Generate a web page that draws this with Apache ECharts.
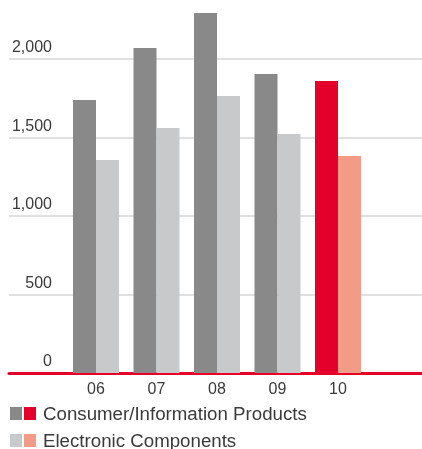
<!DOCTYPE html>
<html>
<head>
<meta charset="utf-8">
<script src="https://cdn.jsdelivr.net/npm/echarts@6/dist/echarts.min.js"></script>
<style>
  html, body { margin: 0; padding: 0; background: #ffffff; }
  #chart { width: 422px; height: 449px; }
</style>
</head>
<body>
<div id="chart"></div>
<script>
// Fiscal years on the category axis
const years = ['06', '07', '08', '09', '10'];
// Segment totals per year
const consumerInfo = [1739, 2070, 2293, 1904, 1860];
const electronicComponents = [1357, 1561, 1764, 1522, 1382];
// Value-axis ticks that carry a label
const yTicks = [0, 500, 1000, 1500, 2000];
const legendNames = ['Consumer/Information Products', 'Electronic Components'];

const FONT = '"Liberation Sans", Arial, sans-serif';
const TEXT = '#3a3a3a';
const RED = '#e4002b';
const lastIdx = years.length - 1;

const chart = echarts.init(document.getElementById('chart'), null, { renderer: 'canvas' });

const fmt = v => yTicks.indexOf(v) >= 0 ? v.toLocaleString('en-US') : '';

// Axis tops out at the last labelled tick; taller bars run above it unclipped.
chart.setOption({
  animation: false,
  backgroundColor: '#ffffff',
  grid: [
    { left: 9, right: 0, top: 59, bottom: 76 },
    { left: 65.75, width: 302.5, top: 59, bottom: 76 }
  ],
  xAxis: [
    {
      gridIndex: 0, type: 'category', data: years,
      axisLine: { show: true, lineStyle: { color: RED, width: 3 } },
      axisTick: { show: false }, axisLabel: { show: false }, splitLine: { show: false }
    },
    {
      gridIndex: 1, type: 'category', data: years,
      axisLine: { show: false }, axisTick: { show: false },
      axisLabel: { color: TEXT, fontFamily: FONT, fontSize: 16, margin: 9 }
    }
  ],
  yAxis: [
    {
      gridIndex: 0, type: 'value', min: 0, max: 2000, interval: 500,
      axisLine: { show: false }, axisTick: { show: false },
      splitLine: { show: true, lineStyle: { color: '#d6d6d6', width: 1.5 } },
      axisLabel: {
        inside: true, align: 'right', verticalAlign: 'bottom', margin: 43,
        padding: [0, 0, 3, 0],
        color: TEXT, fontFamily: FONT, fontSize: 16, formatter: fmt
      }
    },
    {
      gridIndex: 1, type: 'value', min: 0, max: 2000, interval: 500, show: false,
      splitLine: { show: false }
    }
  ],
  series: [
    {
      name: legendNames[0], type: 'bar', xAxisIndex: 1, yAxisIndex: 1,
      data: consumerInfo, barWidth: 23, barGap: '0%', clip: false,
      itemStyle: { color: p => p.dataIndex === lastIdx ? RED : '#898989' }
    },
    {
      name: legendNames[1], type: 'bar', xAxisIndex: 1, yAxisIndex: 1,
      data: electronicComponents, barWidth: 23, barGap: '0%', clip: false,
      itemStyle: { color: p => p.dataIndex === lastIdx ? '#f29c88' : '#c8c9cb' }
    }
  ],
  graphic: [
    { type: 'rect', left: 10, top: 407, shape: { width: 12, height: 13 }, style: { fill: '#898989' } },
    { type: 'rect', left: 24, top: 407, shape: { width: 12, height: 13 }, style: { fill: RED } },
    { type: 'text', left: 43, top: 405, style: { text: legendNames[0], fill: TEXT, font: '18.7px ' + FONT } },
    { type: 'rect', left: 10, top: 434, shape: { width: 12, height: 13 }, style: { fill: '#c8c9cb' } },
    { type: 'rect', left: 24, top: 434, shape: { width: 12, height: 13 }, style: { fill: '#f29c88' } },
    { type: 'text', left: 43, top: 432, style: { text: legendNames[1], fill: TEXT, font: '18.7px ' + FONT } }
  ]
});
</script>
</body>
</html>
